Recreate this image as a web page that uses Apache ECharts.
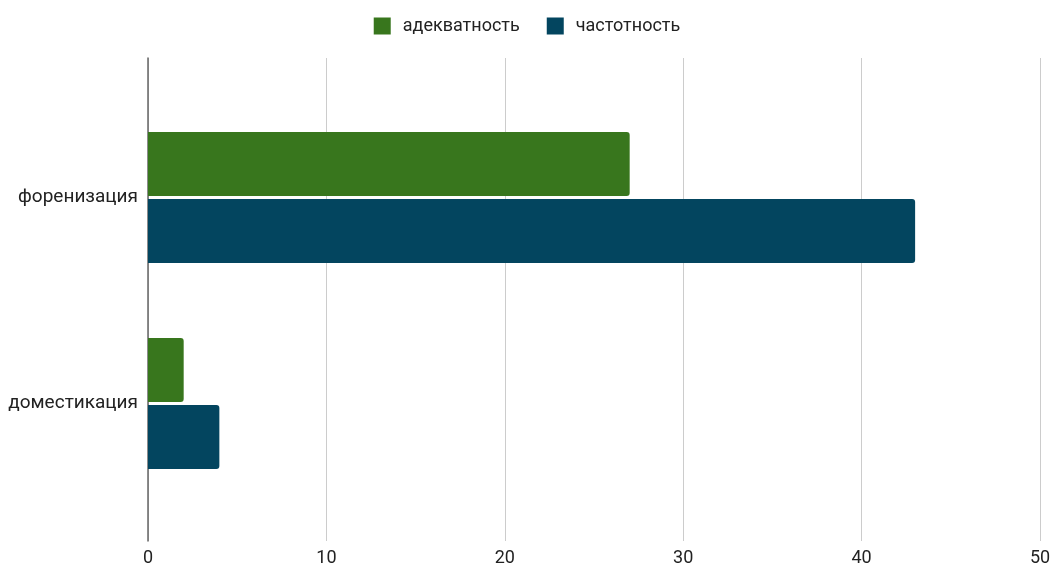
<!DOCTYPE html>
<html>
<head>
<meta charset="utf-8">
<script src="https://cdn.jsdelivr.net/npm/echarts@6/dist/echarts.min.js"></script>
<style>
  html, body { margin: 0; padding: 0; background: #fff; }
  #chart { width: 1054px; height: 571px; }
</style>
</head>
<body>
<div id="chart"></div>
<script>
// Category labels (top to bottom) and series values
const categories = ['форенизация', 'доместикация'];
const adequacy = [27, 2];
const frequency = [43, 4];
const seriesNames = ['адекватность', 'частотность'];
const xMin = 0, xMax = 50, xStep = 10;

const fontFamily = 'Roboto, "Noto Sans", sans-serif';
const chart = echarts.init(document.getElementById('chart'));

chart.setOption({
  backgroundColor: '#ffffff',
  animation: false,
  textStyle: { fontFamily: fontFamily },
  legend: {
    top: 12,
    left: 'center',
    itemWidth: 17,
    itemHeight: 17,
    itemGap: 27,
    icon: 'rect',
    textStyle: { fontSize: 18, color: '#222', fontFamily: fontFamily, padding: [0, 0, 0, 7] },
    data: seriesNames
  },
  grid: [
    // bars
    { left: 148, right: 14, top: 94.5, bottom: 64.5 },
    // value scale, gridlines and zero line
    { left: 148, right: 14, top: 58, bottom: 30 }
  ],
  xAxis: [
    { gridIndex: 0, type: 'value', min: xMin, max: xMax, interval: xStep, show: false },
    {
      gridIndex: 1, type: 'value', min: xMin, max: xMax, interval: xStep, z: 0,
      axisLine: { show: false }, axisTick: { show: false },
      axisLabel: { fontSize: 18, color: '#222', margin: 8 },
      splitLine: { show: true, lineStyle: { color: '#cccccc', width: 1 } }
    }
  ],
  yAxis: [
    {
      gridIndex: 0, type: 'category', data: categories, inverse: true,
      axisLine: { show: false }, axisTick: { show: false },
      axisLabel: { fontSize: 19, color: '#222', margin: 10 }
    },
    {
      gridIndex: 1, type: 'value', min: 0, max: 1, z: 1,
      axisLabel: { show: false }, axisTick: { show: false },
      splitLine: { show: false },
      axisLine: { show: true, lineStyle: { color: '#666666', width: 1.5 } }
    }
  ],
  series: [
    {
      name: seriesNames[0], type: 'bar', data: adequacy,
      xAxisIndex: 0, yAxisIndex: 0, z: 3,
      barWidth: 64, barGap: '5%',
      itemStyle: { color: '#38761d', borderRadius: [0, 3, 3, 0] }
    },
    {
      name: seriesNames[1], type: 'bar', data: frequency,
      xAxisIndex: 0, yAxisIndex: 0, z: 3,
      barWidth: 64, barGap: '5%',
      itemStyle: { color: '#03455f', borderRadius: [0, 3, 3, 0] }
    }
  ]
});
</script>
</body>
</html>
